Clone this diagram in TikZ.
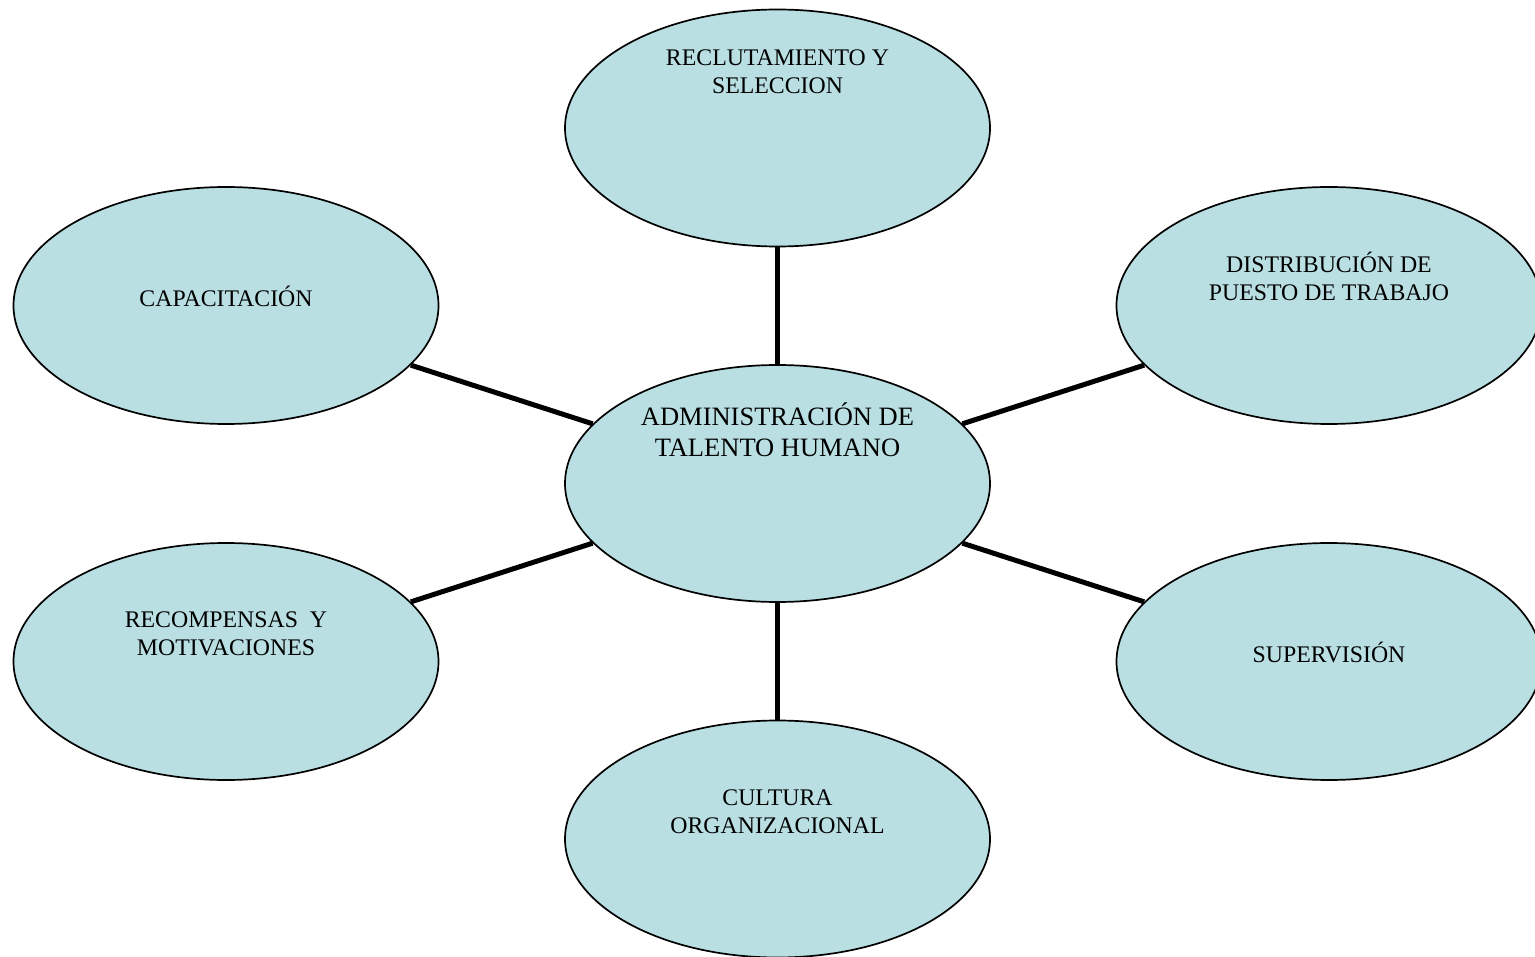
\documentclass[tikz,border=0pt]{standalone}
\usepackage{fontspec}
\setmainfont{Liberation Serif}
\usetikzlibrary{shapes.geometric}
\definecolor{bubble}{RGB}{185,223,227}
\tikzset{
  bubble/.style={ellipse, draw=black, line width=1.7pt, fill=bubble,
    minimum width=425pt, minimum height=237pt, inner sep=0pt},
  link/.style={line width=5pt, black},
  lbl/.style={align=center, inner sep=0pt,
    font=\fontsize{23.8}{28}\selectfont},
  biglbl/.style={align=center, inner sep=0pt,
    font=\fontsize{26.5}{31}\selectfont}
}
\begin{document}
\begin{tikzpicture}[x=1pt,y=-1pt]
\useasboundingbox (0,0) rectangle (1535,957);
% hub and its six satellites
\node[bubble] (hub) at (777.5,483.5) {};
\node[bubble] (rec) at (777.5,128) {};
\node[bubble] (dis) at (1329,305.5) {};
\node[bubble] (sup) at (1329,661.5) {};
\node[bubble] (cul) at (777.5,839) {};
\node[bubble] (mot) at (226,661.5) {};
\node[bubble] (cap) at (226,305.5) {};
% spokes, drawn between the rims
\foreach \s in {rec,dis,sup,cul,mot,cap}
  \draw[link] (hub) -- (\s);
% labels sit near the top of each ellipse
\node[biglbl] (thub) at (777.5,430) {ADMINISTRACIÓN DE\\TALENTO HUMANO};
\node[lbl] (trec) at (777.5,71.5) {RECLUTAMIENTO Y\\SELECCION};
\node[lbl] (tdis) at (1329,276.5) {DISTRIBUCIÓN DE\\PUESTO DE TRABAJO};
\node[lbl] (tcap) at (226,296.5) {CAPACITACIÓN};
\node[lbl] (tmot) at (226,633.5) {RECOMPENSAS\ \ Y\\MOTIVACIONES};
\node[lbl] (tcul) at (777.5,811.5) {CULTURA\\ORGANIZACIONAL};
\node[lbl] (tsup) at (1329,652.5) {SUPERVISIÓN};
\end{tikzpicture}
\end{document}
